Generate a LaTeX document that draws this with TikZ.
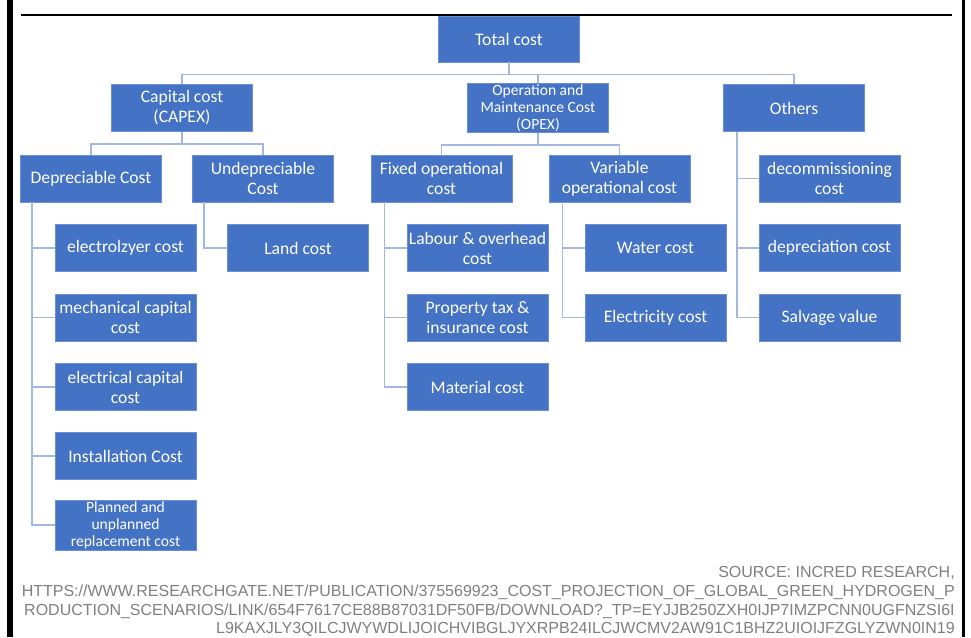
\documentclass[tikz,border=0pt]{standalone}
\usepackage{fontspec}
\setmainfont{Carlito}
\newfontfamily\srcfont{Liberation Sans}

\definecolor{boxblue}{HTML}{4472C4}
\definecolor{boxedge}{HTML}{6C8FD3}
\definecolor{linkblue}{HTML}{A4B7E1}
\definecolor{srcgray}{HTML}{7F7F7F}

\tikzset{
  costbox/.style={fill=boxblue, draw=boxedge, line width=0.6pt, text=white,
    minimum width=105.75pt, minimum height=35.25pt, inner sep=1pt,
    align=center, font=\fontsize{13.2}{15}\selectfont},
  smalltext/.style={font=\fontsize{11.7}{12.75}\selectfont},
  link/.style={draw=linkblue, line width=1.3pt},
  srctext/.style={anchor=base east, text=srcgray, inner sep=0pt,
    font=\srcfont\fontsize{12}{14}\selectfont},
}

\begin{document}
\begin{tikzpicture}[x=0.75pt, y=-0.75pt]
\useasboundingbox (0,0) rectangle (971,637);
% frame
\fill (7,0) rectangle (13,637);
\fill (962,0) rectangle (965,637);
\draw[line width=1.6pt] (21,15) -- (952,15);

% top of the tree
\node[costbox, minimum height=34.5pt] (total) at (509,39) {Total cost};
\node[costbox] (capex) at (182,108) {Capital cost\\(CAPEX)};
\node[costbox, smalltext] (opex) at (538,108) {Operation and\\Maintenance Cost\\(OPEX)};
\node[costbox] (others) at (794,108) {Others};
\foreach \child in {capex,opex,others}
    \draw[link] (total.south) -- +(0,12) -| (\child.north);

% second level
\node[costbox] (dep) at (91,178.5) {Depreciable Cost};
\node[costbox] (undep) at (263,178.5) {Undepreciable\\Cost};
\node[costbox] (fixed) at (441.5,178.5) {Fixed operational\\cost};
\node[costbox] (var) at (619.5,178.5) {Variable\\operational cost};
\foreach \child in {dep,undep}
    \draw[link] (capex.south) -- +(0,12) -| (\child.north);
\foreach \child in {fixed,var}
    \draw[link] (opex.south) -- +(0,12) -| (\child.north);

% leaves
\foreach \y/\name/\txt in {248/elec/electrolzyer cost,317.5/mech/mechanical capital\\cost,387/elcap/electrical capital\\cost,456/inst/Installation Cost}
{
    \node[costbox] (\name) at (125.5,\y) {\txt};
    \draw[link] (dep.south west) ++(12,0) |- (\name.west);
}
\node[costbox, smalltext] (repl) at (125.5,525) {Planned and\\unplanned\\replacement cost};
\draw[link] (dep.south west) ++(12,0) |- (repl.west);

\node[costbox] (land) at (298,248) {Land cost};
\draw[link] (undep.south west) ++(12,0) |- (land.west);

\foreach \y/\name/\txt in {248/labour/Labour \& overhead\\cost,317.5/prop/Property tax \&\\insurance cost,387/mat/Material cost}
{
    \node[costbox] (\name) at (477.5,\y) {\txt};
    \draw[link] (fixed.south west) ++(14,0) |- (\name.west);
}

\foreach \y/\name/\txt in {248/water/Water cost,317.5/elecy/Electricity cost}
{
    \node[costbox] (\name) at (655.5,\y) {\txt};
    \draw[link] (var.south west) ++(14,0) |- (\name.west);
}

\foreach \y/\name/\txt in {178.5/decom/decommissioning\\cost,248/deprc/depreciation cost,317.5/salv/Salvage value}
{
    \node[costbox] (\name) at (829.5,\y) {\txt};
    \draw[link] (others.south west) ++(14,0) |- (\name.west);
}

% source
\node[srctext] (src1) at (955,577.7) {SOURCE: INCRED RESEARCH,};
\node[srctext] (src2) at (955,596.7) {HTTPS://WWW.RESEARCHGATE.NET/PUBLICATION/375569923\_COST\_PROJECTION\_OF\_GLOBAL\_GREEN\_HYDROGEN\_P};
\node[srctext] (src3) at (955,615.7) {RODUCTION\_SCENARIOS/LINK/654F7617CE88B87031DF50FB/DOWNLOAD?\_TP=EYJJB250ZXH0IJP7IMZPCNN0UGFNZSI6I};
\node[srctext] (src4) at (955,633.7) {L9KAXJLY3QILCJWYWDLIJOICHVIBGLJYXRPB24ILCJWCMV2AW91C1BHZ2UIOIJFZGLYZWN0IN19};
\end{tikzpicture}
\end{document}
